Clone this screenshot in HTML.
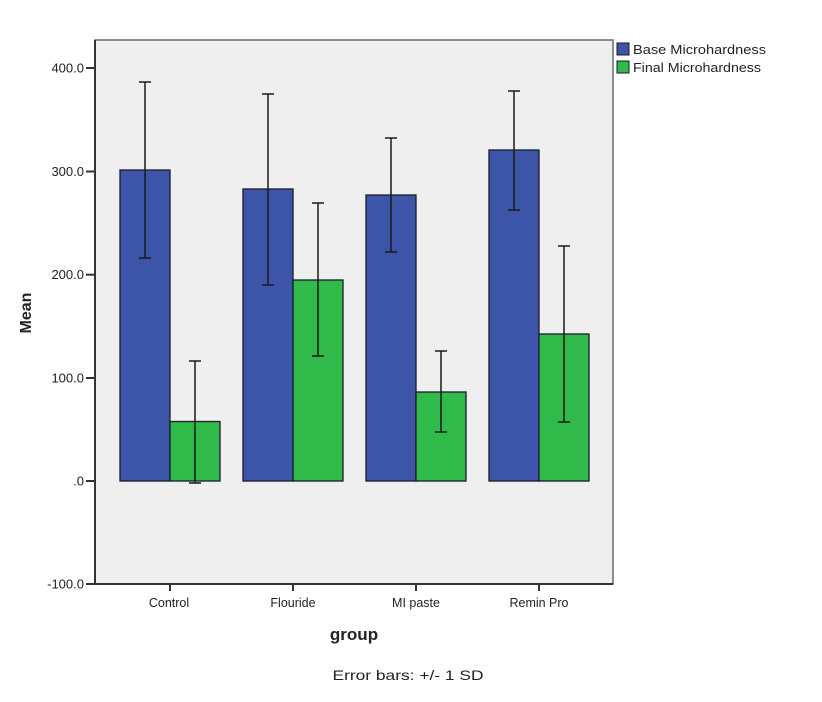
<!DOCTYPE html>
<html>
<head>
<meta charset="utf-8">
<style>
  html,body{margin:0;padding:0;background:#ffffff;}
  svg{display:block;}
  text{font-family:"Liberation Sans",Arial,sans-serif;fill:#222;}
</style>
</head>
<body>
<svg width="822" height="702" viewBox="0 0 822 702" xmlns="http://www.w3.org/2000/svg">
  <!-- plot background -->
  <rect x="95" y="40" width="518" height="544" fill="#efefef" stroke="#6a6a6a" stroke-width="1.5"/>
  <!-- axes -->
  <line x1="95" y1="40" x2="95" y2="585" stroke="#333" stroke-width="2"/>
  <line x1="94" y1="584" x2="613" y2="584" stroke="#333" stroke-width="2"/>

  <!-- y ticks -->
  <g stroke="#333" stroke-width="2">
    <line x1="86" y1="68" x2="95" y2="68"/>
    <line x1="86" y1="171.5" x2="95" y2="171.5"/>
    <line x1="86" y1="274.7" x2="95" y2="274.7"/>
    <line x1="86" y1="378" x2="95" y2="378"/>
    <line x1="86" y1="481" x2="95" y2="481"/>
    <line x1="86" y1="584" x2="95" y2="584"/>
  </g>
  <g font-size="13" text-anchor="end">
    <text x="84" y="72.5">400.0</text>
    <text x="84" y="176">300.0</text>
    <text x="84" y="279">200.0</text>
    <text x="84" y="382.5">100.0</text>
    <text x="84" y="485.5">.0</text>
    <text x="84" y="588.5">-100.0</text>
  </g>

  <!-- x ticks -->
  <g stroke="#333" stroke-width="2">
    <line x1="170" y1="584" x2="170" y2="591"/>
    <line x1="293" y1="584" x2="293" y2="591"/>
    <line x1="416" y1="584" x2="416" y2="591"/>
    <line x1="539" y1="584" x2="539" y2="591"/>
  </g>
  <g font-size="12.5" text-anchor="middle">
    <text x="169" y="607">Control</text>
    <text x="293" y="607">Flouride</text>
    <text x="416" y="607">MI paste</text>
    <text x="539" y="607">Remin Pro</text>
  </g>

  <!-- bars -->
  <g stroke="#1a1a2a" stroke-width="1.3">
    <rect x="120" y="170" width="50" height="311" fill="#3c55a8"/>
    <rect x="170" y="421.5" width="50" height="59.5" fill="#2fba4a"/>
    <rect x="243" y="189" width="50" height="292" fill="#3c55a8"/>
    <rect x="293" y="280" width="50" height="201" fill="#2fba4a"/>
    <rect x="366" y="195" width="50" height="286" fill="#3c55a8"/>
    <rect x="416" y="392" width="50" height="89" fill="#2fba4a"/>
    <rect x="489" y="150" width="50" height="331" fill="#3c55a8"/>
    <rect x="539" y="334" width="50" height="147" fill="#2fba4a"/>
  </g>

  <!-- error bars -->
  <g stroke="#1a1a1a" stroke-width="1.5" fill="none">
    <path d="M145 82 V258 M139 82 H151 M139 258 H151"/>
    <path d="M195 361 V483 M189 361 H201 M189 483 H201"/>
    <path d="M268 94 V285 M262 94 H274 M262 285 H274"/>
    <path d="M318 203 V356 M312 203 H324 M312 356 H324"/>
    <path d="M391 138 V252 M385 138 H397 M385 252 H397"/>
    <path d="M441 351 V432 M435 351 H447 M435 432 H447"/>
    <path d="M514 91 V210 M508 91 H520 M508 210 H520"/>
    <path d="M564 246 V422 M558 246 H570 M558 422 H570"/>
  </g>

  <!-- legend -->
  <rect x="617" y="43" width="12" height="12" fill="#3c55a8" stroke="#1a1a2a" stroke-width="1"/>
  <rect x="617" y="61" width="12" height="12" fill="#2fba4a" stroke="#1a1a2a" stroke-width="1"/>
  <text x="633" y="54" font-size="12.5" textLength="133" lengthAdjust="spacingAndGlyphs">Base Microhardness</text>
  <text x="633" y="72" font-size="12.5" textLength="128" lengthAdjust="spacingAndGlyphs">Final Microhardness</text>

  <!-- axis titles -->
  <text x="0" y="0" font-size="16" font-weight="bold" text-anchor="middle" transform="translate(31,313) rotate(-90)">Mean</text>
  <text x="354" y="640" font-size="17" font-weight="bold" text-anchor="middle">group</text>
  <text x="408" y="680" font-size="14" text-anchor="middle" textLength="151" lengthAdjust="spacingAndGlyphs">Error bars: +/- 1 SD</text>
</svg>
</body>
</html>
